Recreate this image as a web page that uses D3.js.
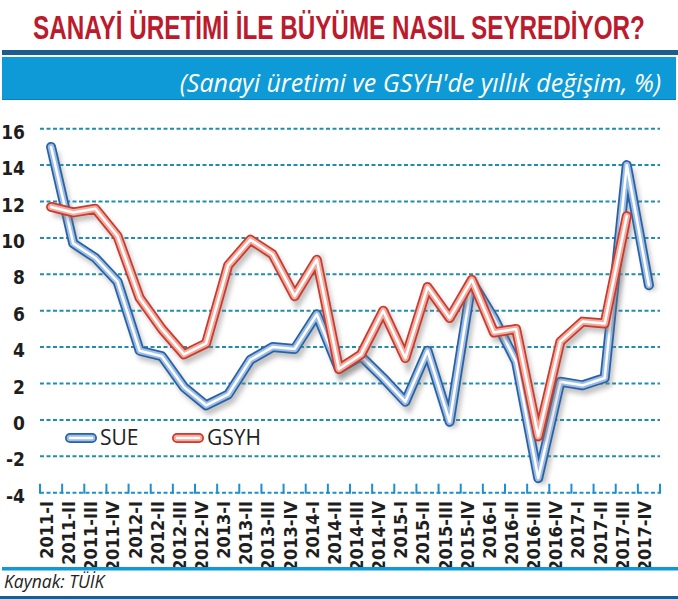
<!DOCTYPE html>
<html lang="tr">
<head>
<meta charset="utf-8">
<title>Sanayi üretimi ile büyüme</title>
<script src="https://cdn.jsdelivr.net/npm/d3@7"></script>
<style>
  body { margin: 0; background: #fff; }
  svg { display: block; }
  .ylab, .xlab { font-family: "Liberation Sans Narrow", "DejaVu Sans Condensed", sans-serif; font-weight: bold; fill: #1e1e1e; }
</style>
</head>
<body>
<script>
// quarters on the x axis
var quarters = ["2011-I", "2011-II", "2011-III", "2011-IV",
                "2012-I", "2012-II", "2012-III", "2012-IV",
                "2013-I", "2013-II", "2013-III", "2013-IV",
                "2014-I", "2014-II", "2014-III", "2014-IV",
                "2015-I", "2015-II", "2015-III", "2015-IV",
                "2016-I", "2016-II", "2016-III", "2016-IV",
                "2017-I", "2017-II", "2017-III", "2017-IV"];

// sanayi üretimi (SUE), annual change %
var sue = [15.0, 9.7, 8.9, 7.6, 3.8, 3.5, 1.8, 0.8,
           1.4, 3.3, 4.0, 3.9, 5.8, 2.8, 3.5, 2.3,
           1.0, 3.8, -0.1, 7.6, 5.6, 3.2, -3.2, 2.1,
           1.9, 2.3, 14.0, 7.4];

// GSYH, annual change %  (no value yet for 2017-IV)
var gsyh = [11.7, 11.4, 11.6, 10.1, 6.7, 5.0, 3.6, 4.2,
            8.5, 9.9, 9.1, 6.8, 8.8, 2.8, 3.6, 6.0,
            3.4, 7.3, 5.6, 7.7, 4.8, 5.0, -0.9, 4.3,
            5.4, 5.3, 11.2, null];

var yTicks = [-4, -2, 0, 2, 4, 6, 8, 10, 12, 14, 16];

var w = 678, h = 599;
var darkBlue = "#1b5d8e", lightBlue = "#0e9ad6", gridCol = "#1c8fb1";

var svg = d3.select("body").append("svg")
            .attr("width", w)
            .attr("height", h);

// shadow blur
svg.append("defs").append("filter")
   .attr("id", "blur")
   .attr("x", "-10%").attr("y", "-10%").attr("width", "120%").attr("height", "120%")
   .append("feGaussianBlur")
   .attr("stdDeviation", 2.5);

//Header - title squeezed horizontally to the narrow look of the original
var title = svg.append("text")
   .attr("text-anchor", "middle")
   .style("font-family", "'Liberation Sans Narrow', sans-serif")
   .style("font-weight", "bold")
   .style("font-size", "33px")
   .style("fill", "#bb1b2c")
   .text("SANAYİ ÜRETİMİ İLE BÜYÜME NASIL SEYREDİYOR?");
var tw = title.node().getComputedTextLength();
title.attr("transform", "translate(339,39) scale(" + (612 / tw) + ",1)");

svg.append("rect").attr("x", 2).attr("y", 50).attr("width", w - 2).attr("height", 5).attr("fill", darkBlue);
svg.append("rect").attr("x", 2).attr("y", 57).attr("width", w - 4).attr("height", 43).attr("fill", lightBlue);
svg.append("rect").attr("x", 2).attr("y", 99).attr("width", w - 4).attr("height", 1).attr("fill", "#0a80b8");

svg.append("text")
   .attr("x", 661)
   .attr("y", 92)
   .attr("text-anchor", "end")
   .style("font-family", "'Open Sans', sans-serif")
   .style("font-style", "italic")
   .style("font-size", "25px")
   .style("fill", "#fff")
   .text("(Sanayi üretimi ve GSYH'de yıllık değişim, %)");

//Scales
var xScale = d3.scaleBand()
               .domain(quarters)
               .range([40, 660]);

var yScale = d3.scaleLinear()
               .domain([-4, 16])
               .range([492.7, 128.7]);

var cx = function(q) { return xScale(q) + xScale.bandwidth() / 2; };

//Grid lines
svg.selectAll("line.grid")
   .data(yTicks.slice(1))
   .enter()
   .append("line")
   .attr("class", "grid")
   .attr("x1", 40)
   .attr("x2", 660)
   .attr("y1", function(d) { return yScale(d); })
   .attr("y2", function(d) { return yScale(d); })
   .attr("stroke", gridCol)
   .attr("stroke-width", 2)
   .attr("stroke-dasharray", "4,2.5");

//Bottom axis line with ticks
svg.append("line")
   .attr("x1", 40).attr("x2", 660)
   .attr("y1", yScale(-4)).attr("y2", yScale(-4))
   .attr("stroke", "#1f8fcf")
   .attr("stroke-width", 2)
   .attr("stroke-dasharray", "4,2.5");

svg.selectAll("line.tick")
   .data(quarters.concat(["end"]))
   .enter()
   .append("line")
   .attr("class", "tick")
   .attr("x1", function(d) { return d === "end" ? 660 : xScale(d); })
   .attr("x2", function(d) { return d === "end" ? 660 : xScale(d); })
   .attr("y1", yScale(-4) - 9)
   .attr("y2", yScale(-4) + 1)
   .attr("stroke", "#1f8fcf")
   .attr("stroke-width", 2);

//Y labels
svg.selectAll("text.ylab")
   .data(yTicks)
   .enter()
   .append("text")
   .attr("class", "ylab")
   .attr("x", 25)
   .attr("y", function(d) { return yScale(d) + 10; })
   .attr("text-anchor", "end")
   .style("font-size", "19px")
   .text(function(d) { return d; });

//X labels
svg.selectAll("text.xlab")
   .data(quarters)
   .enter()
   .append("text")
   .attr("class", "xlab")
   .attr("text-anchor", "end")
   .attr("transform", function(d) {
       return "translate(" + (xScale(d) + 13) + ",501) rotate(-90)";
   })
   .style("font-size", "18px")
   .text(function(d) { return d; });

//Lines
var line = d3.line()
             .defined(function(d) { return d.v !== null; })
             .x(function(d) { return cx(d.q); })
             .y(function(d) { return yScale(d.v); });

function series(values) {
    return quarters.map(function(q, i) { return { q: q, v: values[i] }; });
}

function drawLine(g, d, outer, mid) {
    g.append("path").attr("d", d)
     .attr("transform", "translate(3,5)")
     .attr("fill", "none").attr("stroke", "#777").attr("stroke-opacity", 0.45)
     .attr("stroke-width", 9).attr("filter", "url(#blur)");
    [[outer, 10], [mid, 6.5], ["#fff", 2.5]].forEach(function(s) {
        g.append("path").attr("d", d)
         .attr("fill", "none")
         .attr("stroke", s[0])
         .attr("stroke-width", s[1])
         .attr("stroke-linejoin", "round")
         .attr("stroke-linecap", "round");
    });
}

drawLine(svg.append("g"), line(series(sue)), "#2862a3", "#9dbce6");
drawLine(svg.append("g"), line(series(gsyh)), "#c93a2f", "#f2aa9c");

//Legend
var legend = [
    { name: "SUE", x: 70, outer: "#2862a3", mid: "#9dbce6" },
    { name: "GSYH", x: 177, outer: "#c93a2f", mid: "#f2aa9c" }
];
legend.forEach(function(l) {
    var g = svg.append("g");
    var d = "M" + l.x + ",438H" + (l.x + 22);
    [[l.outer, 10], [l.mid, 6.5], ["#fff", 2.5]].forEach(function(s) {
        g.append("path").attr("d", d)
         .attr("fill", "none")
         .attr("stroke", s[0])
         .attr("stroke-width", s[1])
         .attr("stroke-linecap", "round");
    });
    g.append("text")
     .attr("x", l.x + 30)
     .attr("y", 445)
     .style("font-family", "'Open Sans', sans-serif")
     .style("font-size", "21px")
     .style("fill", "#222")
     .text(l.name);
});

//Footer
svg.append("rect").attr("x", 2).attr("y", 567).attr("width", w - 2).attr("height", 3.5).attr("fill", lightBlue);
svg.append("text")
   .attr("x", 4)
   .attr("y", 588)
   .style("font-family", "'Open Sans', sans-serif")
   .style("font-style", "italic")
   .style("font-size", "17.5px")
   .style("fill", "#222")
   .text("Kaynak: TÜİK");
svg.append("rect").attr("x", 0).attr("y", 596).attr("width", w).attr("height", 3).attr("fill", darkBlue);
</script>
</body>
</html>
